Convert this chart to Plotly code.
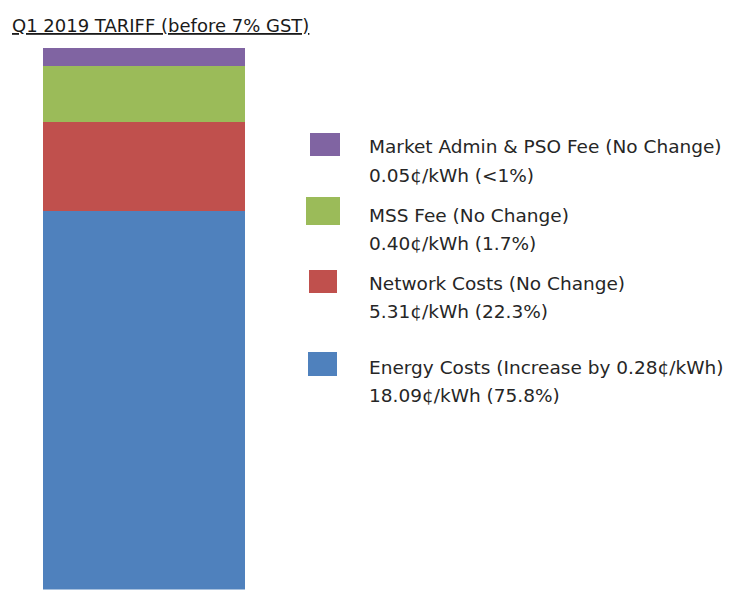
import plotly.graph_objects as go

W, H = 747, 598

# components, top of the stack first (as in the legend)
names = ["Market Admin & PSO Fee (No Change)", "MSS Fee (No Change)",
         "Network Costs (No Change)", "Energy Costs (Increase by 0.28¢/kWh)"]
value_labels = ["0.05¢/kWh (<1%)", "0.40¢/kWh (1.7%)",
                "5.31¢/kWh (22.3%)", "18.09¢/kWh (75.8%)"]
# drawn segment heights (not to scale with the values)
bar_heights = [17.5, 56.5, 89, 378.5]
colors = ["#8064A2", "#9BBB59", "#C0504D", "#4F81BD"]


def px(x):
    return x / W


def py(y):
    return 1 - y / H


fig = go.Figure()
# stack from the bottom up
for name, h, c in reversed(list(zip(names, bar_heights, colors))):
    fig.add_trace(go.Bar(x=["Q1 2019"], y=[h], name=name, marker_color=c,
                         marker_line_width=0, width=1))

total = sum(bar_heights)

# legend drawn by hand: square + two lines of text
sq = [(310, 133, 340, 156), (306, 197, 340, 225), (309, 270, 337, 293), (308, 352, 337, 376)]
line1_y = [147, 215, 283, 367]
txt_font = dict(family="DejaVu Sans", size=18.5, color="#262626")
for (x0, y0, x1, y1), c, n, v, ly in zip(sq, colors, names, value_labels, line1_y):
    fig.add_shape(type="rect", xref="paper", yref="paper",
                  x0=px(x0), x1=px(x1), y0=py(y1), y1=py(y0),
                  fillcolor=c, line_width=0)
    fig.add_annotation(text=n, xref="paper", yref="paper", x=px(367), y=py(ly),
                       xanchor="left", yanchor="middle", showarrow=False, font=txt_font)
    fig.add_annotation(text=v, xref="paper", yref="paper", x=px(367), y=py(ly + 28),
                       xanchor="left", yanchor="middle", showarrow=False, font=txt_font)

fig.add_annotation(text="<u>Q1 2019 TARIFF (before 7% GST)</u>", xref="paper", yref="paper",
                   x=px(10), y=py(26), xanchor="left", yanchor="middle", showarrow=False,
                   font=dict(family="DejaVu Sans", size=18, color="#1a1a1a"))

fig.update_layout(
    width=W, height=H,
    barmode="stack",
    showlegend=False,
    plot_bgcolor="white", paper_bgcolor="white",
    margin=dict(l=0, r=0, t=0, b=0),
    xaxis=dict(domain=[px(43), px(245)], range=[-0.5, 0.5], visible=False),
    yaxis=dict(domain=[py(589.5), py(48)], range=[0, total], visible=False),
)

# drop the browser's default 8px page margin so the figure sits at the top-left corner
fig.write_html("out.html", config={"displayModeBar": False},
               post_script="document.body.style.margin='0';")
